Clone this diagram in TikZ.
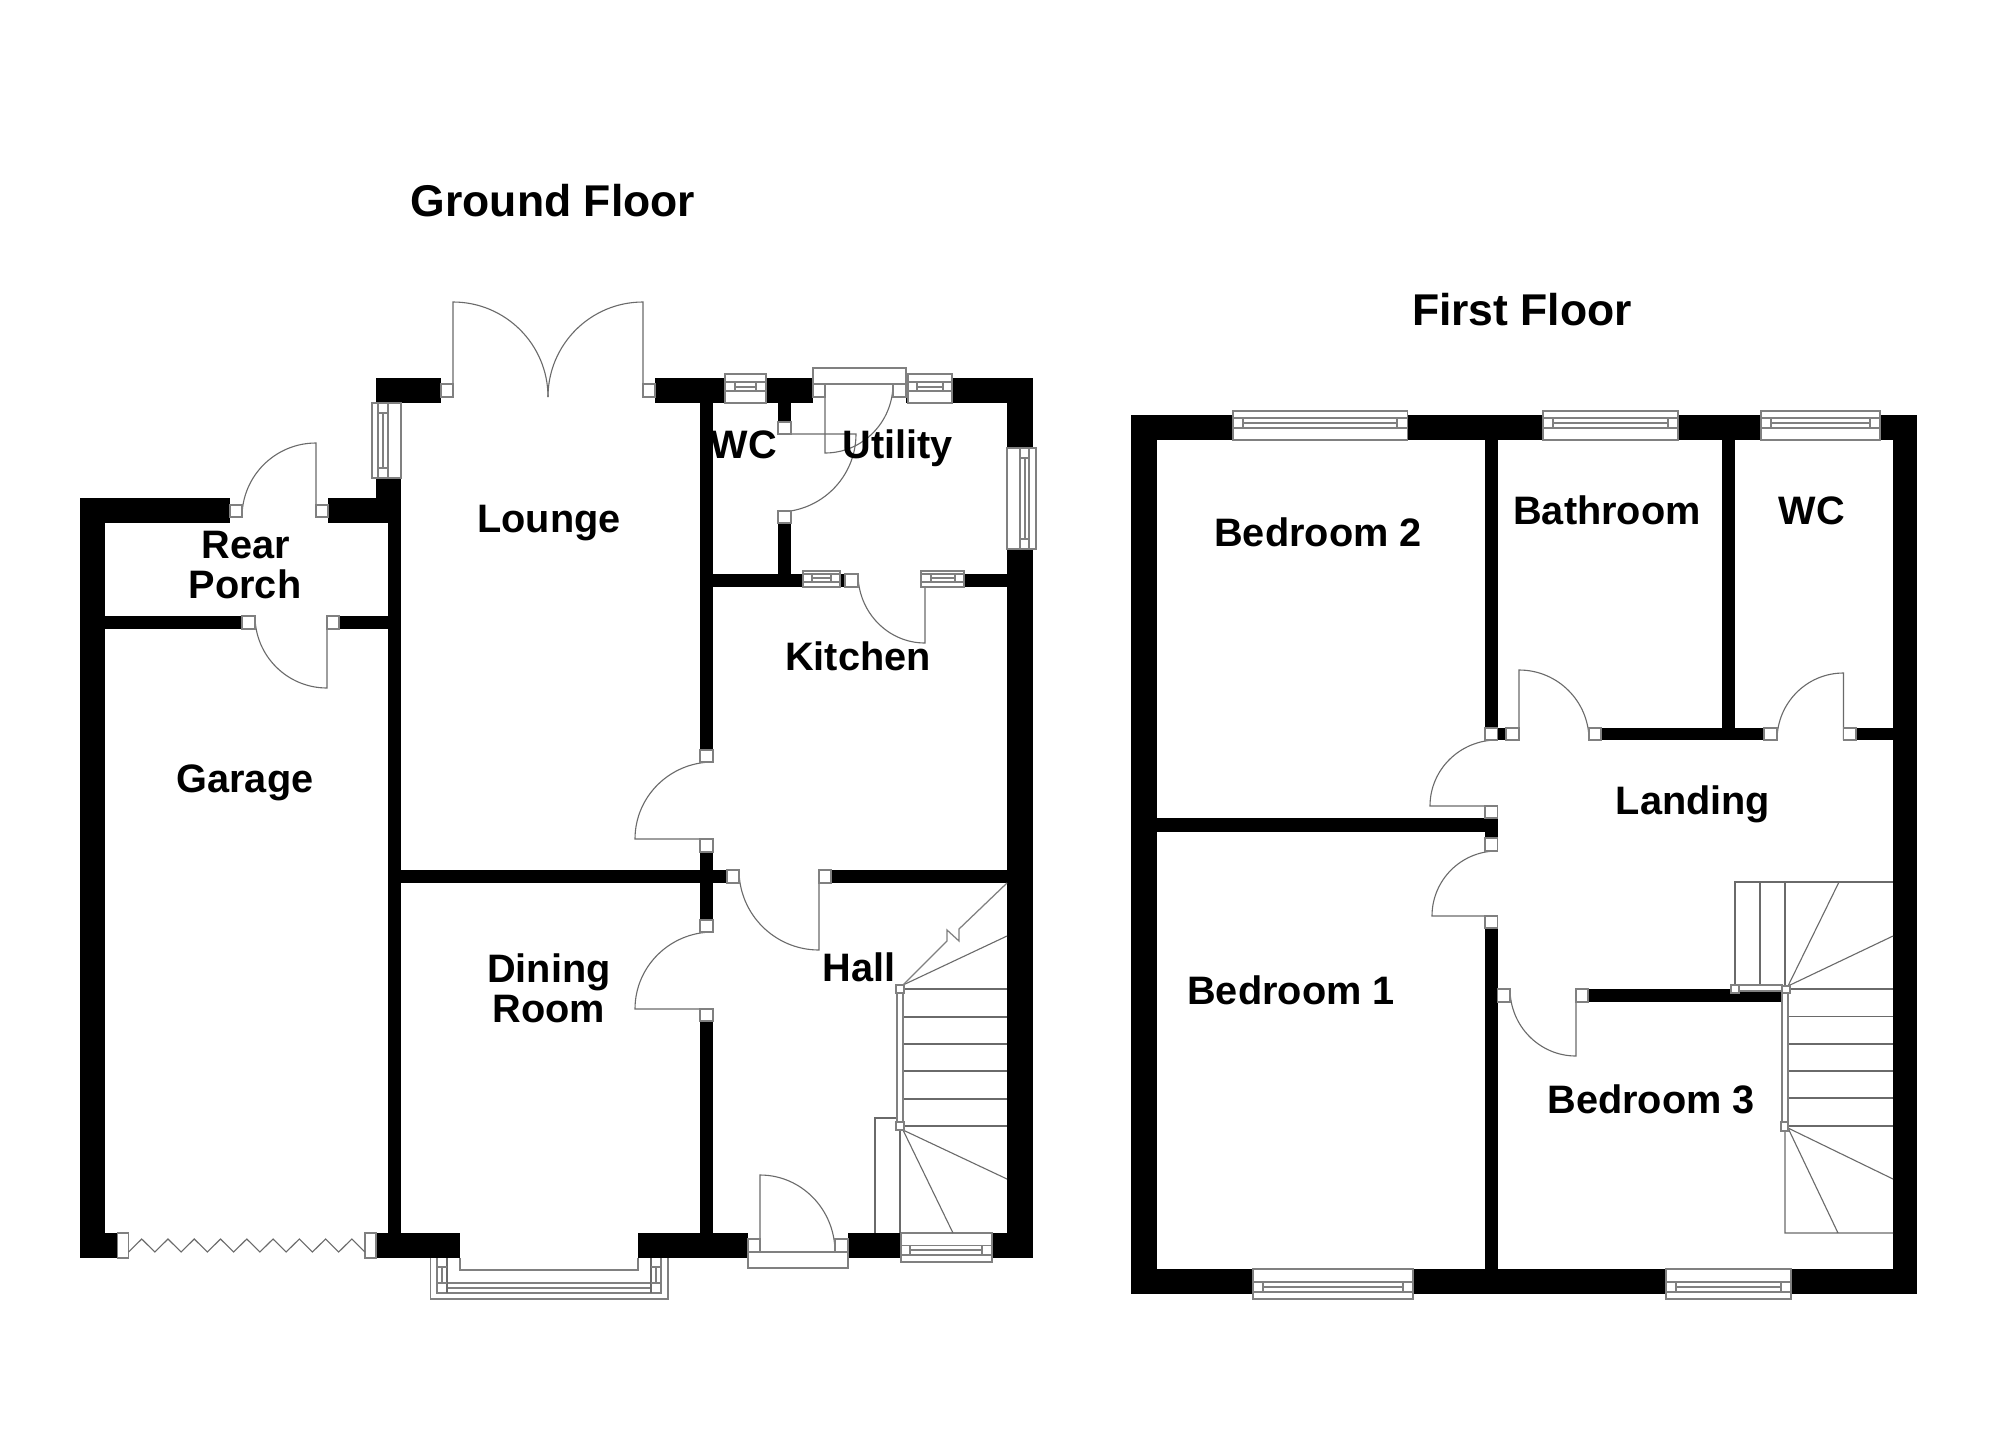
\documentclass[tikz,border=0pt]{standalone}
\usepackage{fontspec}
\setmainfont{Liberation Sans}
\usetikzlibrary{calc}
\definecolor{fine}{HTML}{6A6A6A}
\definecolor{frame}{HTML}{808080}
\tikzset{
  wall/.style={fill=black,draw=none},
  fineline/.style={draw=fine,line width=1.1pt},
  frameline/.style={draw=frame,line width=1.25pt},
  jambbox/.style={fill=white,draw=frame,line width=1.25pt},
  room/.style={font=\bfseries\fontsize{39.7}{40}\selectfont,anchor=base,inner sep=0pt},
  heading/.style={font=\bfseries\fontsize{44.5}{44}\selectfont,anchor=base,inner sep=0pt},
}
\newcommand\W[4]{\fill[wall] (#1,#2) rectangle (#3,#4);}
\newcommand\J[4]{\path[jambbox] (#1,#2) rectangle (#3,#4);}
% door: hinge, leaf tip, arc end
\newcommand\D[6]{\draw[fineline] (#1,#2) -- (#3,#4) .. controls ($(#3,#4)!0.5523!(#3+#5-#1,#4+#6-#2)$) and ($(#5,#6)!0.5523!(#3+#5-#1,#4+#6-#2)$) .. (#5,#6);}
% horizontal window
\newcommand\HW[9]{\path[jambbox] (#1,#3) rectangle (#2,#4);
  \draw[frameline] (#1,#5) -- (#2,#5) (#1,#7) -- (#2,#7) (#8,#6) -- (#9,#6) (#8,#5) -- (#8,#7) (#9,#5) -- (#9,#7);}
% vertical window
\newcommand\VW[9]{\path[jambbox] (#3,#1) rectangle (#4,#2);
  \draw[frameline] (#5,#1) -- (#5,#2) (#7,#1) -- (#7,#2) (#6,#8) -- (#6,#9) (#5,#8) -- (#7,#8) (#5,#9) -- (#7,#9);}
\begin{document}
\begin{tikzpicture}[x=1pt,y=-1pt]
\path[use as bounding box,fill=white] (0,0) rectangle (2000,1454);
%% ===== Ground floor walls =====
\W{80}{498}{105}{1258}
\W{80}{498}{230}{523}
\W{328}{498}{401}{523}
\W{376}{478}{401}{523}
\W{388}{478}{401}{1258}
\W{105}{616}{242}{629}
\W{339}{616}{388}{629}
\W{376}{378}{441}{403}
\W{655}{378}{725}{403}
\W{766}{378}{813}{403}
\W{906}{378}{908}{403}
\W{952}{378}{1033}{403}
\W{1007}{378}{1033}{448}
\W{1007}{549}{1033}{1258}
\W{700}{403}{713}{750}
\W{700}{852}{713}{920}
\W{700}{1021}{713}{1233}
\W{401}{870}{727}{883}
\W{831}{870}{1007}{883}
\W{778}{403}{791}{422}
\W{778}{523}{791}{574}
\W{713}{574}{803}{587}
\W{840}{574}{845}{587}
\W{964}{574}{1007}{587}
\W{80}{1233}{117.5}{1258}
\W{376}{1233}{460}{1258}
\W{638}{1233}{748}{1258}
\W{848}{1233}{901}{1258}
\W{992}{1233}{1033}{1258}
%% ===== First floor walls =====
\W{1131}{415}{1233}{440}
\W{1407.5}{415}{1543}{440}
\W{1678}{415}{1761}{440}
\W{1880}{415}{1917}{440}
\W{1131}{415}{1157}{1294}
\W{1893}{415}{1917}{1294}
\W{1131}{1269}{1253}{1294}
\W{1413}{1269}{1666}{1294}
\W{1791}{1269}{1917}{1294}
\W{1485}{440}{1497.5}{728}
\W{1722}{440}{1735}{728}
\W{1497.5}{728}{1506}{740}
\W{1601}{728}{1764}{740}
\W{1856}{728}{1893}{740}
\W{1157}{818}{1497.5}{832}
\W{1485}{818}{1497.5}{838}
\W{1485}{928}{1497.5}{1269}
\W{1588}{989}{1782}{1002}
%% ===== Ground floor doors =====
\D{316}{517}{316}{443}{242}{517}
\D{327}{616}{327}{688}{255}{616}
\D{453}{397}{453}{302}{548}{397}
\D{643}{397}{643}{302}{548}{397}
\D{825}{384}{825}{453}{893}{384}
\D{778}{434}{856}{434}{778}{512}
\D{925}{574}{925}{643}{858}{574}
\D{713}{839}{635}{839}{713}{762}
\D{713}{1009}{635}{1009}{713}{932}
\D{819}{870}{819}{950}{739}{870}
\D{760}{1252}{760}{1175}{835}{1252}
%% ===== First floor doors =====
\D{1497}{806}{1430}{806}{1497}{740}
\D{1497}{916}{1432}{916}{1497}{851}
\D{1519}{740}{1519}{670}{1589}{740}
\D{1843.5}{740}{1843.5}{673}{1777}{740}
\D{1576}{989}{1576}{1056}{1510}{989}
%% ===== Jambs =====
\J{230}{505}{242}{517}
\J{316}{505}{328}{517}
\J{242}{616}{255}{629}
\J{327}{616}{339}{629}
\J{441}{384}{453}{397}
\J{643}{384}{655}{397}
\path[jambbox] (813,368) rectangle (906,384);
\J{813}{384}{825}{397}
\J{893}{384}{906}{397}
\J{778}{422}{791}{434}
\J{778}{511}{791}{523}
\J{845}{574}{858}{587}
\J{700}{750}{713}{762}
\J{700}{839}{713}{852}
\J{700}{920}{713}{932}
\J{700}{1009}{713}{1021}
\J{727}{870}{739}{883}
\J{819}{870}{831}{883}
\path[jambbox] (748,1252) rectangle (848,1268);
\J{748}{1239}{760}{1252}
\J{835}{1239}{848}{1252}
\J{117.5}{1233}{128.6}{1258}
\J{365}{1233}{376}{1258}
\J{1485}{728}{1497.5}{740}
\J{1485}{806}{1497.5}{818}
\J{1485}{838}{1497.5}{851}
\J{1485}{916}{1497.5}{928}
\J{1506}{728}{1519}{740}
\J{1589}{728}{1601}{740}
\J{1764}{728}{1777}{740}
\J{1843.5}{728}{1856}{740}
\J{1497.5}{989}{1510}{1002}
\J{1576}{989}{1588}{1002}
%% ===== Folding garage door =====
\draw[fineline] (128.6,1252)
  \foreach \k in {1,...,18} { -- ({128.6+\k*13.13},{mod(\k,2)==1 ? 1239 : 1252}) };
%% ===== Windows =====
\VW{403}{478}{372}{401}{378}{383}{388}{413}{468}
\VW{448}{549}{1007}{1036}{1020}{1025}{1029}{458}{539}
\HW{725}{766}{374}{403}{382}{387}{391}{735}{756}
\HW{908}{952}{374}{403}{382}{387}{391}{917}{943}
\HW{803}{840}{571}{587}{574}{578}{582}{812}{831}
\HW{921}{964}{571}{587}{574}{578}{582}{931}{955}
\HW{901}{992}{1233}{1262}{1245.5}{1250}{1255}{910}{982}
\HW{1233}{1407.5}{411}{440}{418}{423}{428}{1243}{1397}
\HW{1543}{1678}{411}{440}{418}{423}{428}{1553}{1668}
\HW{1761}{1880}{411}{440}{418}{423}{428}{1771}{1870}
\HW{1253}{1413}{1269}{1299}{1282}{1287}{1292}{1263}{1403}
\HW{1666}{1791}{1269}{1299}{1282}{1287}{1292}{1676}{1781}
%% ===== Bay window =====
\draw[frameline] (430.6,1258) -- (430.6,1299) -- (668,1299) -- (668,1258);
\draw[frameline] (437,1258) -- (437,1293) -- (661,1293) -- (661,1258);
\draw[frameline] (460,1258) -- (460,1270) -- (638,1270) -- (638,1258);
\draw[frameline] (447,1283) -- (651,1283) (447,1288) -- (651,1288);
\draw[fineline] (447,1258) -- (447,1293) (651,1258) -- (651,1293);
\draw[frameline] (437,1267) -- (447,1267) (437,1283) -- (447,1283)
  (651,1267) -- (661,1267) (651,1283) -- (661,1283)
  (442,1267) -- (442,1283) (656,1267) -- (656,1283);
%% ===== Ground floor stairs =====
\draw[fineline] (875,1233) -- (875,1118) -- (897,1118) (900,1130) -- (900,1233);
\foreach \yy in {989,1017,1044,1071,1099,1126} {\draw[fineline] (903,\yy) -- (1007,\yy);}
\draw[fineline] (903,1130) -- (1007,1179) (903,1130) -- (953,1233) (903,985) -- (1007,936);
\draw[frameline] (903,985) -- (947,941) -- (947,930) -- (959,941) -- (959,929) -- (1007,883);
\path[jambbox] (897,989) rectangle (903,1126);
\J{896}{985}{904}{993}
\J{896}{1122}{904}{1130}
%% ===== First floor stairs =====
\draw[fineline] (1735,986) -- (1735,882) -- (1893,882) (1760,882) -- (1760,986) (1785,882) -- (1785,986);
\draw[fineline] (1788,986) -- (1839,882) (1788,986) -- (1893,936);
\foreach \yy in {989,1016.5,1044,1071,1098,1126} {\draw[fineline] (1788,\yy) -- (1893,\yy);}
\draw[fineline] (1788,1128) -- (1893,1179) (1788,1128) -- (1838,1233) (1785,1131) -- (1785,1233) -- (1893,1233);
\path[jambbox] (1739,985) rectangle (1782,991);
\path[jambbox] (1782,993) rectangle (1788,1122);
\J{1731}{985}{1739}{993}
\J{1782}{986}{1790}{993}
\J{1781}{1122}{1788}{1131}
%% ===== Labels =====
\node[heading] (groundfloor) at (553,216) {Ground Floor};
\node[heading] (firstfloor) at (1522,325.5) {First Floor};
\node[room] (lounge) at (549,532) {Lounge};
\node[room] (wcground) at (744,458) {WC};
\node[room] (utility) at (897.5,458) {Utility};
\node[room] (rear) at (246,558) {Rear};
\node[room] (porch) at (245,598) {Porch};
\node[room] (kitchen) at (858,670) {Kitchen};
\node[room] (garage) at (245,792) {Garage};
\node[room] (dining) at (549,982) {Dining};
\node[room] (diningroom) at (549,1022) {Room};
\node[room] (hall) at (859,981) {Hall};
\node[room] (bedtwo) at (1318,546) {Bedroom 2};
\node[room] (bathroom) at (1607,524) {Bathroom};
\node[room] (wcfirst) at (1812,524) {WC};
\node[room] (landing) at (1693,814) {Landing};
\node[room] (bedone) at (1291,1004) {Bedroom 1};
\node[room] (bedthree) at (1651,1113) {Bedroom 3};
\end{tikzpicture}
\end{document}
